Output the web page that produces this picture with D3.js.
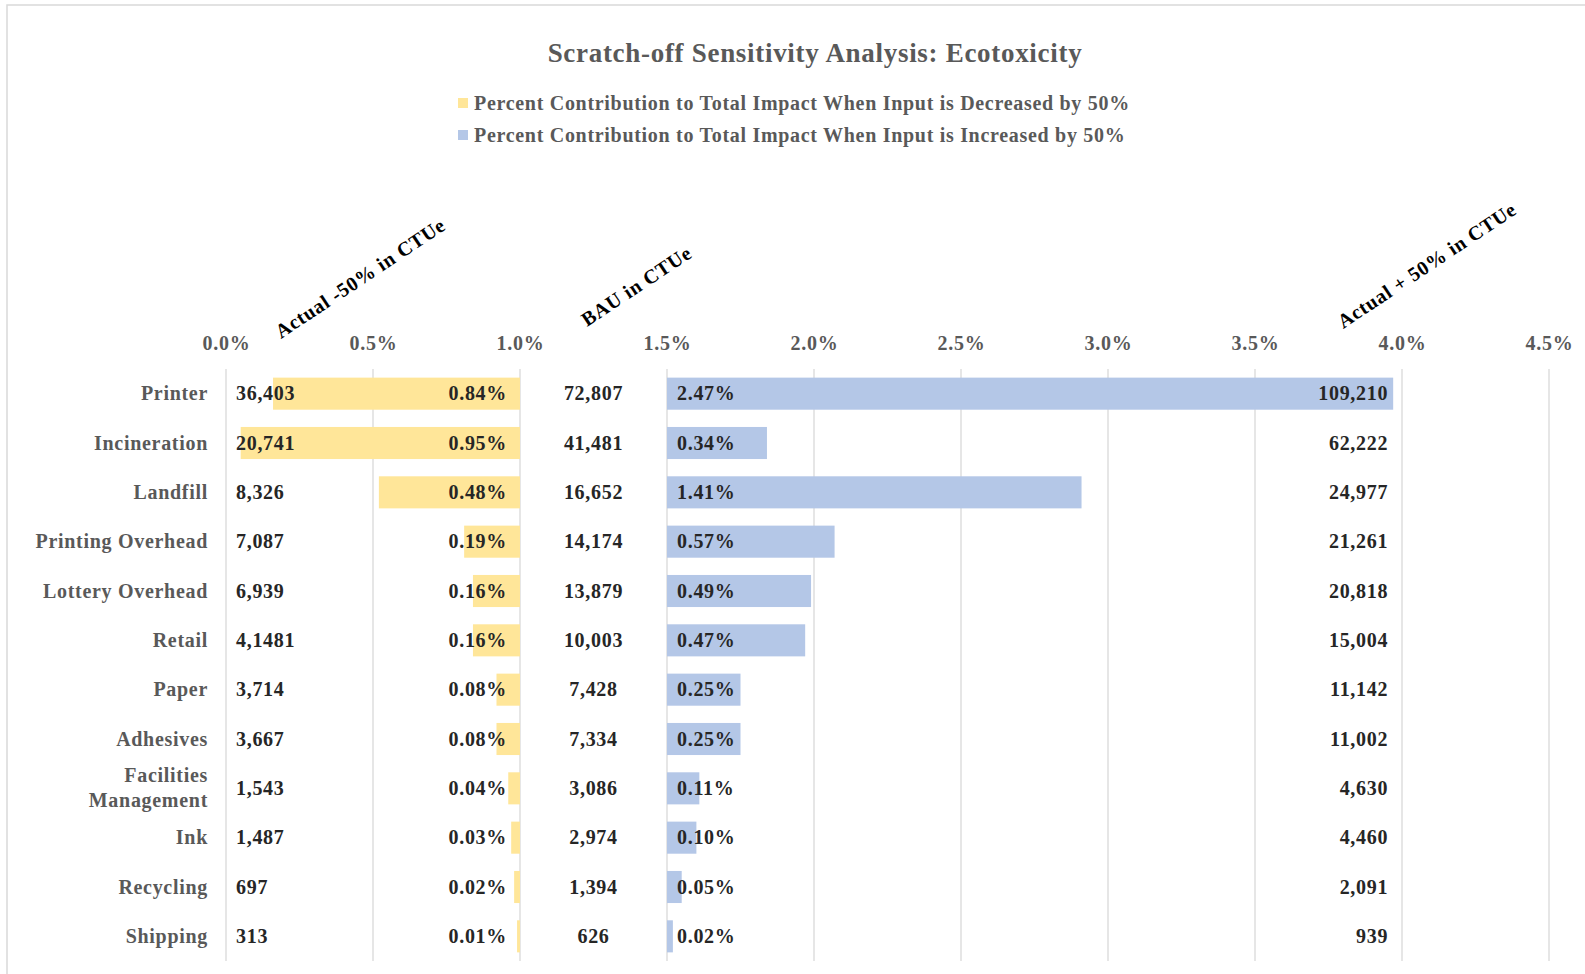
<!DOCTYPE html>
<html>
<head>
<meta charset="utf-8">
<script src="https://cdn.jsdelivr.net/npm/d3@7"></script>
<style>
  body { margin: 0; background: #fff; }
  svg text { font-family: "Liberation Serif", "Times New Roman", serif; font-weight: bold; letter-spacing: 0.7px; }
</style>
</head>
<body>
<svg id="drawing_region"></svg>
<script>
// data
const categories = ["Printer", "Incineration", "Landfill", "Printing Overhead", "Lottery Overhead", "Retail",
    "Paper", "Adhesives", "Facilities Management", "Ink", "Recycling", "Shipping"];
const decreasedPct = [0.84, 0.95, 0.48, 0.19, 0.16, 0.16, 0.08, 0.08, 0.04, 0.03, 0.02, 0.01];
const increasedPct = [2.47, 0.34, 1.41, 0.57, 0.49, 0.47, 0.25, 0.25, 0.11, 0.10, 0.05, 0.02];
const actualMinus50 = ["36,403", "20,741", "8,326", "7,087", "6,939", "4,1481", "3,714", "3,667", "1,543", "1,487", "697", "313"];
const bau = ["72,807", "41,481", "16,652", "14,174", "13,879", "10,003", "7,428", "7,334", "3,086", "2,974", "1,394", "626"];
const actualPlus50 = ["109,210", "62,222", "24,977", "21,261", "20,818", "15,004", "11,142", "11,002", "4,630", "4,460", "2,091", "939"];
const xTicks = [0, 0.5, 1.0, 1.5, 2.0, 2.5, 3.0, 3.5, 4.0, 4.5];
const decreaseBase = 1.0;   // yellow bars end at 1.0%
const increaseBase = 1.5;   // blue bars start at 1.5%
const legendLabels = ["Percent Contribution to Total Impact When Input is Decreased by 50%",
    "Percent Contribution to Total Impact When Input is Increased by 50%"];

const rows = categories.map((c, i) => ({
    name: c, dec: decreasedPct[i], inc: increasedPct[i],
    lo: actualMinus50[i], bau: bau[i], hi: actualPlus50[i]
}));

const config = {
    width: 1585,
    height: 974,
    margin: {top: 369, right: 36, bottom: 13, left: 226}
};
const yellow = "#FFE699", blue = "#B4C7E7";
const grey = "#595959", dark = "#262626";

const svg = d3.select("#drawing_region")
    .attr("width", config.width)
    .attr("height", config.height);

// outer frame (only top & left show in the picture)
svg.append("rect")
    .attr("x", 7).attr("y", 5)
    .attr("width", 1700).attr("height", 1100)
    .attr("fill", "none").attr("stroke", "#d9d9d9").attr("stroke-width", 1.5);

const innerW = config.width - config.margin.left - config.margin.right;
const innerH = config.height - config.margin.top - config.margin.bottom;

const chart = svg.append("g")
    .attr("transform", `translate(${config.margin.left}, ${config.margin.top})`);

const xscale = d3.scaleLinear().domain([0, 4.5]).range([0, innerW]);
const yscale = d3.scaleBand().domain(categories).range([0, innerH])
    .paddingInner(0.35).paddingOuter(0.175);

// gridlines
chart.selectAll(".grid")
    .data(xTicks)
    .join("line")
    .attr("class", "grid")
    .attr("x1", d => xscale(d)).attr("x2", d => xscale(d))
    .attr("y1", 0).attr("y2", innerH)
    .attr("stroke", "#d9d9d9").attr("stroke-width", 1.3);

// top axis labels
const xaxis = d3.axisTop(xscale)
    .tickValues(xTicks)
    .tickFormat(d => d.toFixed(1) + "%")
    .tickSize(0).tickPadding(0);
const xaxisGroup = chart.append("g")
    .attr("transform", "translate(0, -19)")
    .call(xaxis);
xaxisGroup.select(".domain").remove();
xaxisGroup.selectAll("text")
    .attr("font-size", "20px")
    .attr("fill", grey)
    .attr("font-family", null);

// bars
chart.selectAll(".dec")
    .data(rows)
    .join("rect")
    .attr("class", "dec")
    .attr("x", d => xscale(decreaseBase - d.dec))
    .attr("y", d => yscale(d.name))
    .attr("width", d => xscale(decreaseBase) - xscale(decreaseBase - d.dec))
    .attr("height", yscale.bandwidth())
    .attr("fill", yellow);

chart.selectAll(".inc")
    .data(rows)
    .join("rect")
    .attr("class", "inc")
    .attr("x", xscale(increaseBase))
    .attr("y", d => yscale(d.name))
    .attr("width", d => xscale(increaseBase + d.inc) - xscale(increaseBase))
    .attr("height", yscale.bandwidth())
    .attr("fill", blue);

const mid = d => yscale(d.name) + yscale.bandwidth() / 2;

// category labels
const cat = chart.selectAll(".cat")
    .data(rows)
    .join("text")
    .attr("class", "cat")
    .attr("x", -18)
    .attr("y", mid)
    .attr("text-anchor", "end")
    .attr("font-size", "20px")
    .attr("fill", grey);
cat.each(function(d) {
    const words = d.name === "Facilities Management" ? ["Facilities", "Management"] : [d.name];
    const t = d3.select(this);
    words.forEach((w, i) => {
        t.append("tspan")
            .attr("x", -18)
            .attr("dy", i === 0 ? (words.length === 1 ? "0.33em" : "-0.3em") : "1.25em")
            .text(w);
    });
});

// value labels
function valueLabels(cls, xpos, anchor, text) {
    chart.selectAll("." + cls)
        .data(rows)
        .join("text")
        .attr("class", cls)
        .attr("x", xpos)
        .attr("y", mid)
        .attr("dy", "0.33em")
        .attr("text-anchor", anchor)
        .attr("font-size", "20px")
        .attr("fill", dark)
        .text(text);
}
valueLabels("lo", xscale(0) + 10, "start", d => d.lo);
valueLabels("decp", xscale(decreaseBase) - 13, "end", d => d.dec.toFixed(2) + "%");
valueLabels("bau", xscale(1.25), "middle", d => d.bau);
valueLabels("incp", xscale(increaseBase) + 10, "start", d => d.inc.toFixed(2) + "%");
valueLabels("hi", xscale(3.97) - 5, "end", d => d.hi);

// rotated column headers
const headers = [
    {text: "Actual -50% in CTUe", at: 0.187, dy: -30},
    {text: "BAU in CTUe", at: 1.228, dy: -42},
    {text: "Actual + 50% in CTUe", at: 3.80, dy: -40}
];
chart.selectAll(".hdr")
    .data(headers)
    .join("text")
    .attr("class", "hdr")
    .attr("transform", d => `translate(${xscale(d.at)}, ${d.dy}) rotate(-33.6)`)
    .attr("font-size", "20px")
    .attr("fill", "#000")
    .text(d => d.text);

// title
svg.append("text")
    .attr("x", 815).attr("y", 62)
    .attr("text-anchor", "middle")
    .attr("font-size", "27px")
    .attr("letter-spacing", "0.6px")
    .attr("fill", grey)
    .text("Scratch-off Sensitivity Analysis: Ecotoxicity");

// legend
const legend = svg.selectAll(".legend")
    .data(legendLabels)
    .join("g")
    .attr("class", "legend")
    .attr("transform", (d, i) => `translate(458, ${103 + i * 32})`);
legend.append("rect")
    .attr("x", 0).attr("y", -5)
    .attr("width", 10).attr("height", 10)
    .attr("fill", (d, i) => i === 0 ? yellow : blue);
legend.append("text")
    .attr("x", 16).attr("dy", "0.33em")
    .attr("font-size", "20px")
    .attr("fill", grey)
    .text(d => d);
</script>
</body>
</html>
